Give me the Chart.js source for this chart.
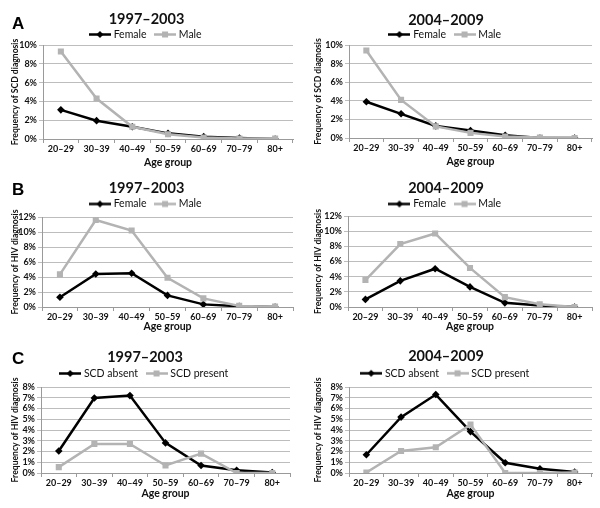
<!DOCTYPE html>
<html><head><meta charset="utf-8">
<script src="https://cdn.jsdelivr.net/npm/chart.js@4.4.1/dist/chart.umd.min.js"></script>
<style>
html,body{margin:0;padding:0;background:#fff;}
#wrap{position:relative;width:600px;height:508px;overflow:hidden;background:#fff;}
#wrap canvas{position:absolute;}
.lbl{position:absolute;font:bold 17px "Liberation Sans",Arial,sans-serif;color:#000;line-height:1;}
</style></head><body>
<div id="wrap">
<canvas id="a1" width="300" height="170" style="left:0;top:0"></canvas>
<canvas id="a2" width="300" height="170" style="left:300px;top:0"></canvas>
<canvas id="b1" width="300" height="165" style="left:0;top:170px"></canvas>
<canvas id="b2" width="300" height="165" style="left:300px;top:170px"></canvas>
<canvas id="c1" width="300" height="173" style="left:0;top:335px"></canvas>
<canvas id="c2" width="300" height="173" style="left:300px;top:335px"></canvas>
<div class="lbl" style="left:12px;top:15px">A</div>
<div class="lbl" style="left:12px;top:181px">B</div>
<div class="lbl" style="left:12px;top:350px">C</div>
</div>
<script>
// ---- data ----
const ageGroups = ['20–29','30–39','40–49','50–59','60–69','70–79','80+'];
const periods = ['1997–2003','2004–2009'];
const sexLabels = ['Female','Male'];
const scdLabels = ['SCD absent','SCD present'];
const xAxisTitle = 'Age group';
const yTitleSCD = 'Frequency of SCD diagnosis';
const yTitleHIV = 'Frequency of HIV diagnosis';

const scdFemale9703 = [3.1, 1.95, 1.3, 0.6, 0.25, 0.1, 0.0];
const scdMale9703   = [9.3, 4.3, 1.3, 0.5, 0.15, 0.05, 0.05];
const scdFemale0409 = [3.9, 2.6, 1.3, 0.8, 0.3, 0.0, 0.0];
const scdMale0409   = [9.4, 4.1, 1.25, 0.55, 0.15, 0.05, 0.0];

const hivFemale9703 = [1.3, 4.4, 4.5, 1.55, 0.35, 0.1, 0.0];
const hivMale9703   = [4.35, 11.6, 10.2, 3.9, 1.15, 0.15, 0.05];
const hivFemale0409 = [1.0, 3.45, 5.05, 2.65, 0.55, 0.2, 0.0];
const hivMale0409   = [3.55, 8.3, 9.7, 5.15, 1.3, 0.35, 0.0];

const hivScdAbsent9703  = [2.05, 6.97, 7.2, 2.8, 0.7, 0.25, 0.05];
const hivScdPresent9703 = [0.55, 2.7, 2.7, 0.7, 1.8, 0.0, 0.0];
const hivScdAbsent0409  = [1.7, 5.2, 7.3, 3.85, 0.95, 0.4, 0.1];
const hivScdPresent0409 = [0.05, 2.05, 2.4, 4.5, 0.0, 0.0, 0.05];

const yMaxA = 10, yStepA = 2;
const yMaxB = 12, yStepB = 2;
const yMaxC = 8,  yStepC = 1;

// ---- styling / layout ----
const FONT = 'Lato, "Liberation Sans", Arial, sans-serif';
const DARK = '#000000';
const GRAY = '#b3b3b3';
const GRID = '#bdbdbd';
const AXIS = '#9a9a9a';

function legendImage(color, style){
  const c = document.createElement('canvas');
  c.width = 22; c.height = 9;
  const g = c.getContext('2d');
  g.strokeStyle = color; g.lineWidth = 2.5;
  g.beginPath(); g.moveTo(0,4.5); g.lineTo(22,4.5); g.stroke();
  g.fillStyle = color;
  if (style === 'diamond'){
    g.beginPath(); g.moveTo(11,1); g.lineTo(14.5,4.5); g.lineTo(11,8); g.lineTo(7.5,4.5); g.closePath(); g.fill();
  } else {
    g.fillRect(8,1.5,6,6);
  }
  return c;
}

const boxPatch = {
  id: 'boxPatch',
  beforeLayout(chart){
    const L = chart.options.plugins.boxPatch;
    if (chart.titleBlock && !chart.titleBlock._p){
      const t = chart.titleBlock, o = t.update.bind(t);
      t.update = function(w,h){ o(w,h); this.height = L.titleH; this.bottom = this.top + L.titleH; };
      t._p = true;
    }
    if (chart.legend && !chart.legend._p){
      const lg = chart.legend, o = lg.update.bind(lg);
      lg.update = function(w,h,m){ o(w,h,m); this.height = L.legendH; };
      lg._p = true;
    }
  }
};

function makePanel(id, cfg){
  const el = document.getElementById(id);
  const W = el.width, H = el.height, L = cfg.layout;
  const titleFont = {family: FONT, size: 14.5, weight: 'bold', lineHeight: 1.2};
  const legendFont = 10.5, legendPad = 10;
  const titleH = L.legendY - legendFont/2 - legendPad;
  const titlePadTop = L.titleY - titleFont.size*titleFont.lineHeight/2;
  const legendH = L.top - titleH;
  const xTitleFont = {family: FONT, size: 10.5, weight: 'bold', lineHeight: 1.2};
  const yTitleFont = {family: FONT, size: 8.6, weight: 'bold', lineHeight: 1.2};
  const styles = ['diamond','square'];
  const colors = [DARK, GRAY];
  const ds = cfg.series.map((vals, i) => ({
    label: cfg.labels[i],
    data: vals,
    borderColor: colors[i],
    backgroundColor: colors[i],
    borderWidth: 2.5,
    tension: 0,
    pointStyle: i === 0 ? 'rectRot' : 'rect',
    pointRadius: i === 0 ? 3.8 : 4.3,
    pointBorderWidth: 0,
    order: i === 0 ? 1 : 0
  }));
  return new Chart(el, {
    type: 'line',
    data: {labels: ageGroups, datasets: ds},
    plugins: [boxPatch],
    options: {
      responsive: false, animation: false, devicePixelRatio: 1,
      layout: {padding: {left: 0, top: 0, bottom: 0, right: W - L.right}},
      plugins: {
        boxPatch: {titleH: titleH, legendH: legendH},
        title: {display: true, text: cfg.title, color: '#111', font: titleFont,
                padding: {top: titlePadTop, bottom: 0}},
        legend: {display: true, position: 'top',
          labels: {
            usePointStyle: true, pointStyleWidth: 17, padding: legendPad,
            color: '#111', font: {family: FONT, size: legendFont},
            generateLabels: (chart) => chart.data.datasets.map((d, i) => ({
              text: d.label, datasetIndex: i, pointStyle: legendImage(colors[i], styles[i]),
              fillStyle: colors[i], strokeStyle: colors[i], lineWidth: 0, hidden: false, fontColor: '#111'
            }))
          }},
        tooltip: {enabled: false}
      },
      scales: {
        x: {
          type: 'category', offset: true,
          grid: {display: true, drawOnChartArea: false, drawTicks: true, tickLength: 4, color: AXIS, offset: true},
          border: {display: true, color: AXIS, width: 1},
          ticks: {color: '#111', padding: 1, maxRotation: 0, autoSkip: false,
                  font: {family: FONT, size: 9, weight: 'bold'}},
          title: {display: true, text: xAxisTitle, color: '#111', font: xTitleFont,
                  padding: {top: 0, bottom: H - L.xTitleY - xTitleFont.size*xTitleFont.lineHeight/2}},
          afterFit: (s) => { s.height = H - L.bottom; }
        },
        y: {
          min: 0, max: cfg.yMax,
          grid: {color: GRID, lineWidth: 1, drawTicks: true, tickLength: 4},
          border: {display: true, color: AXIS, width: 1},
          ticks: {stepSize: cfg.yStep, autoSkip: false, color: '#111', padding: 2,
                  font: {family: FONT, size: 9, weight: 'bold'},
                  callback: (v) => v + '%'},
          title: {display: true, text: cfg.yTitle, color: '#111', font: yTitleFont,
                  padding: {top: L.yTitleX - yTitleFont.size*yTitleFont.lineHeight/2, bottom: 0}},
          afterFit: (s) => { s.width = L.left; }
        }
      }
    }
  });
}

makePanel('a1', {title: periods[0], labels: sexLabels, series: [scdFemale9703, scdMale9703],
  yTitle: yTitleSCD, yMax: yMaxA, yStep: yStepA,
  layout: {titleY: 19.5, legendY: 34.5, top: 45, bottom: 139, left: 43, right: 293, xTitleY: 163, yTitleX: 15}});
makePanel('a2', {title: periods[1], labels: sexLabels, series: [scdFemale0409, scdMale0409],
  yTitle: yTitleSCD, yMax: yMaxA, yStep: yStepA,
  layout: {titleY: 20, legendY: 34.5, top: 45, bottom: 138, left: 49, right: 292, xTitleY: 162, yTitleX: 18}});
makePanel('b1', {title: periods[0], labels: sexLabels, series: [hivFemale9703, hivMale9703],
  yTitle: yTitleHIV, yMax: yMaxB, yStep: yStepB,
  layout: {titleY: 18, legendY: 34, top: 47, bottom: 137, left: 42, right: 293, xTitleY: 157, yTitleX: 15}});
makePanel('b2', {title: periods[1], labels: sexLabels, series: [hivFemale0409, hivMale0409],
  yTitle: yTitleHIV, yMax: yMaxB, yStep: yStepB,
  layout: {titleY: 18, legendY: 34, top: 46, bottom: 137, left: 48, right: 292, xTitleY: 157, yTitleX: 18}});
makePanel('c1', {title: periods[0], labels: scdLabels, series: [hivScdAbsent9703, hivScdPresent9703],
  yTitle: yTitleHIV, yMax: yMaxC, yStep: yStepC,
  layout: {titleY: 22, legendY: 38.5, top: 52, bottom: 138, left: 41, right: 290, xTitleY: 159, yTitleX: 15}});
makePanel('c2', {title: periods[1], labels: scdLabels, series: [hivScdAbsent0409, hivScdPresent0409],
  yTitle: yTitleHIV, yMax: yMaxC, yStep: yStepC,
  layout: {titleY: 21, legendY: 38.3, top: 52, bottom: 138, left: 49, right: 292, xTitleY: 159, yTitleX: 18}});
</script>
</body></html>
